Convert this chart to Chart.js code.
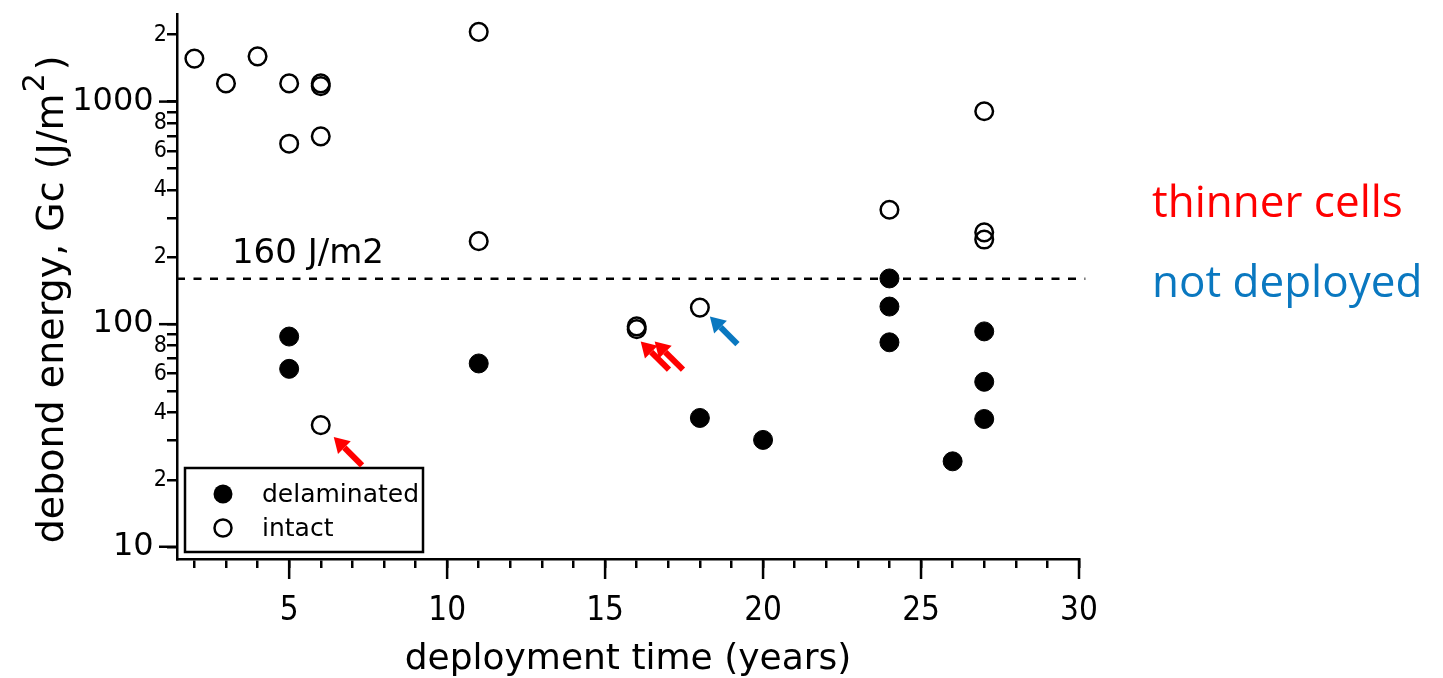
<!DOCTYPE html>
<html><head><meta charset="utf-8">
<script src="https://cdn.jsdelivr.net/npm/chart.js@4/dist/chart.umd.min.js"></script>
<style>html,body{margin:0;padding:0;background:#fff;overflow:hidden}</style>
</head><body>
<canvas id="c" width="1443" height="678"></canvas>
<script>
// ---- data ----
const xTicks = [2,3,4,5,6,7,8,9,10,11,12,13,14,15,16,17,18,19,20,21,22,23,24,25,26,27,28,29,30];
const yTicks = [10,20,30,40,50,60,70,80,90,100,200,300,400,500,600,700,800,900,1000,2000];
const yMajor = [10,100,1000];
const delaminatedX = [5,5,11,18,20,24,24,24,26,27,27,27];
const delaminatedY = [88,63,66.6,37.9,30.2,160.5,120,82.9,24.2,92.8,55.1,37.5];
const intactX = [2,3,4,5,6,6,5,6,11,11,6,16,16,18,24,27,27,27];
const intactY = [1560,1207,1597,1207,1207,1174,647,698,2058,236,35.2,97.7,95,118.7,326.6,905,258.5,240];
const thresholdX = [1.45,30.2];
const thresholdY = [160,160];
const thresholdLabel = '160 J/m2';
const noteLabels = ['thinner cells','not deployed'];

const FONT = 'DejaVu Sans';
const XFONT = '"DejaVu Sans Condensed", "Liberation Sans Narrow", "DejaVu Sans"';
const pts = (xs, ys) => xs.map((x,i)=>({x, y: ys[i]}));

const arrows = [
  {x:6,  y:35.2,  dx:13, dy:12, len:40, color:'#ff0000'},
  {x:16, y:97.7,  dx:4,  dy:15, len:40, color:'#ff0000'},
  {x:16, y:97.7,  dx:18, dy:15, len:40, color:'#ff0000'},
  {x:18, y:118.7, dx:10, dy:9,  len:39, color:'#0a78c0'}
];

const extras = {
  id:'extras',
  afterDraw(chart){
    const ctx = chart.ctx, ca = chart.chartArea, xs = chart.scales.x, ys = chart.scales.y;
    ctx.save();
    // long major ticks
    ctx.strokeStyle = '#000'; ctx.lineWidth = 2.5;
    xTicks.filter(v=>v%5===0).forEach(v=>{
      const px = xs.getPixelForValue(v);
      ctx.beginPath(); ctx.moveTo(px, ca.bottom); ctx.lineTo(px, ca.bottom+20); ctx.stroke();
    });
    yMajor.forEach(v=>{
      const py = ys.getPixelForValue(v);
      ctx.beginPath(); ctx.moveTo(ca.left-18, py); ctx.lineTo(ca.left, py); ctx.stroke();
    });
    // threshold label
    ctx.fillStyle = '#000';
    ctx.font = '34px "'+FONT+'"';
    ctx.textAlign = 'left'; ctx.textBaseline = 'alphabetic';
    ctx.fillText(thresholdLabel, xs.getPixelForValue(3.19), ys.getPixelForValue(160)-16);
    // legend
    const lx = ca.left+8, ly = ca.bottom-91, lw = 238, lh = 84;
    ctx.fillStyle = '#fff'; ctx.fillRect(lx, ly, lw, lh);
    ctx.lineWidth = 2.5; ctx.strokeStyle = '#000'; ctx.strokeRect(lx, ly, lw, lh);
    const ds = chart.data.datasets;
    [0,1].forEach((k,i)=>{
      const cy = ly + 26 + i*34, cx = lx + 38;
      ctx.beginPath(); ctx.arc(cx, cy, k===0?9.5:8.5, 0, Math.PI*2);
      if (k===0){ ctx.fillStyle='#000'; ctx.fill(); }
      else { ctx.lineWidth = 2.5; ctx.strokeStyle='#000'; ctx.stroke(); }
      ctx.fillStyle = '#000'; ctx.font = '25px "'+FONT+'"';
      ctx.textAlign='left'; ctx.textBaseline='middle';
      ctx.fillText(ds[k].label, lx+77, cy+1);
    });
    // arrows
    arrows.forEach(a=>{
      const px = xs.getPixelForValue(a.x) + a.dx, py = ys.getPixelForValue(a.y) + a.dy;
      const ux = Math.SQRT1_2, uy = Math.SQRT1_2;
      const tx = px + ux*a.len, ty = py + uy*a.len;
      const hl = 15, hw = 9;
      const bx = px + ux*hl, by = py + uy*hl;
      ctx.strokeStyle = a.color; ctx.fillStyle = a.color; ctx.lineWidth = 6; ctx.lineCap='butt';
      ctx.beginPath(); ctx.moveTo(tx, ty); ctx.lineTo(bx, by); ctx.stroke();
      ctx.beginPath(); ctx.moveTo(px, py);
      ctx.lineTo(bx - uy*hw, by + ux*hw); ctx.lineTo(bx + uy*hw, by - ux*hw); ctx.closePath(); ctx.fill();
    });
    // side notes
    ctx.textAlign='left'; ctx.textBaseline='alphabetic';
    ctx.font = '44px "Open Sans"';
    ctx.fillStyle = '#ff0000'; ctx.fillText(noteLabels[0], ca.right+73, 217);
    ctx.fillStyle = '#0a78c0'; ctx.fillText(noteLabels[1], ca.right+73, 297);
    // y title with superscript
    ctx.save();
    ctx.translate(63, (ca.top+ca.bottom)/2 + 13);
    ctx.rotate(-Math.PI/2);
    ctx.fillStyle = '#000';
    const main = 'debond energy, Gc (J/m', sup = '2', close = ')';
    ctx.font = '38px "'+FONT+'"';
    const w1 = ctx.measureText(main).width, w3 = ctx.measureText(close).width;
    ctx.font = '30px "'+FONT+'"';
    const w2 = ctx.measureText(sup).width;
    let x0 = -(w1+w2+w3+4)/2;
    ctx.textAlign='left'; ctx.textBaseline='alphabetic';
    ctx.font = '38px "'+FONT+'"'; ctx.fillText(main, x0, 0);
    ctx.font = '30px "'+FONT+'"'; ctx.fillText(sup, x0+w1+1, -19);
    ctx.font = '38px "'+FONT+'"'; ctx.fillText(close, x0+w1+w2+4, 0);
    ctx.restore();
    ctx.restore();
  }
};

new Chart(document.getElementById('c'), {
  type:'scatter',
  data:{datasets:[
    {label:'delaminated', data:pts(delaminatedX, delaminatedY), pointStyle:'circle', pointRadius:9.5, pointHoverRadius:9.5,
     backgroundColor:'#000', borderColor:'#000', borderWidth:1, order:1},
    {label:'intact', data:pts(intactX, intactY), pointStyle:'circle', pointRadius:8.8, pointHoverRadius:8.8,
     backgroundColor:'rgba(0,0,0,0)', borderColor:'#000', borderWidth:2.5, order:2},
    {label:'threshold', type:'line', data:pts(thresholdX, thresholdY), borderColor:'#000', borderWidth:2.5,
     borderDash:[8,8.5], pointRadius:0, fill:false, order:3, clip:false}
  ]},
  options:{
    responsive:false, animation:false, devicePixelRatio:1,
    layout:{padding:{top:10, right:364, left:0, bottom:0}},
    plugins:{legend:{display:false}, tooltip:{enabled:false}},
    scales:{
      x:{type:'linear', min:1.45, max:30,
        afterBuildTicks:s=>{s.ticks = xTicks.map(v=>({value:v}));},
        afterFit:s=>{s.height = 119;},
        ticks:{autoSkip:false, maxRotation:0, color:'#000', padding:24,
          font:{family:XFONT, size:33}, callback:v=> v%5===0 ? String(v) : ''},
        grid:{drawOnChartArea:false, drawTicks:true, tickLength:9, color:'#000', lineWidth:2.5},
        border:{display:true, color:'#000', width:2.5},
        title:{display:true, text:'deployment time (years)', color:'#000', font:{family:FONT, size:36}, padding:{top:0,bottom:-3}}
      },
      y:{type:'logarithmic', min:8.81, max:2480,
        afterBuildTicks:s=>{s.ticks = yTicks.map(v=>({value:v}));},
        afterFit:s=>{s.width = 177;},
        ticks:{autoSkip:false, color:'#000', padding:0,
          font:c=>(c.tick && yMajor.includes(c.tick.value)) ? {family:FONT, size:32} : {family:XFONT, size:23},
          callback:v=>{
            if (yMajor.includes(v)) return String(v)+' \u200A';
            const p = Math.pow(10, Math.floor(Math.log10(v)+1e-9));
            const m = Math.round(v/p);
            return m%2===0 ? String(m) : '';
          }},
        grid:{drawOnChartArea:false, drawTicks:true, tickLength:10, color:'#000', lineWidth:2.5},
        border:{display:true, color:'#000', width:2.5}
      }
    }
  },
  plugins:[extras]
});
</script>
</body></html>
